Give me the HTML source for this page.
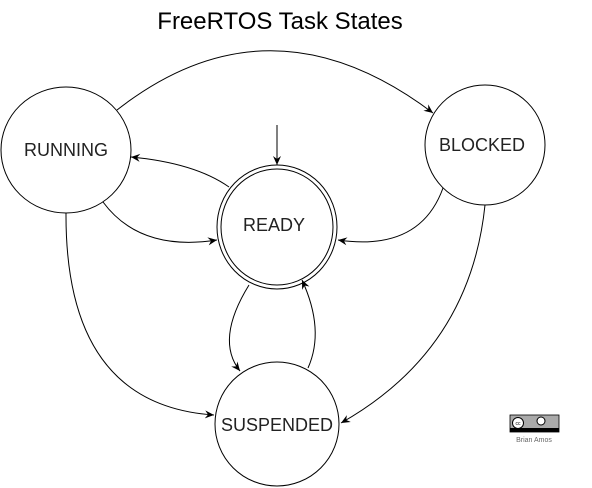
<!DOCTYPE html>
<html><head><style>body{margin:0;background:#fff}svg{display:block}</style></head><body>
<svg width="592" height="488" viewBox="0 0 592 488" xmlns="http://www.w3.org/2000/svg" font-family="Liberation Sans, Arial, sans-serif">
<defs><marker id="a" markerWidth="10" markerHeight="10" refX="9" refY="5" orient="auto" markerUnits="userSpaceOnUse"><path d="M0,1 L9,5 L0,9 L3,5 Z" fill="#000"/></marker></defs>
<text x="280" y="29" font-size="24" text-anchor="middle">FreeRTOS Task States</text>
<g fill="none" stroke="#000" stroke-width="1">
<ellipse cx="66" cy="150" rx="65" ry="63"/>
<ellipse cx="485" cy="145" rx="60" ry="60"/>
<ellipse cx="277" cy="227" rx="60" ry="62"/>
<ellipse cx="277" cy="227" rx="56" ry="58"/>
<ellipse cx="277" cy="424" rx="62" ry="62"/>
<path d="M117,110 Q270,-10 433,113" marker-end="url(#a)"/>
<path d="M277,125 L277,165" marker-end="url(#a)"/>
<path d="M229,187 Q195,163 131,157" marker-end="url(#a)"/>
<path d="M103,202 Q140,252 217,240" marker-end="url(#a)"/>
<path d="M443,188 Q420,252 338,240" marker-end="url(#a)"/>
<path d="M66,213 Q65,405 214,415" marker-end="url(#a)"/>
<path d="M485,205 Q470,350 341,423" marker-end="url(#a)"/>
<path d="M249,285 Q215,340 240,371" marker-end="url(#a)"/>
<path d="M308,368 Q325,330 302,280" marker-end="url(#a)"/>
</g>
<g font-size="18" text-anchor="middle" fill="#222">
<text x="66" y="156">RUNNING</text>
<text x="482" y="151">BLOCKED</text>
<text x="274" y="231">READY</text>
<text x="277" y="431">SUSPENDED</text>
</g>
<rect x="510" y="415" width="49" height="17" fill="#aaa" stroke="#000" stroke-width="0.8"/>
<rect x="510" y="428" width="49" height="4" fill="#000"/>
<circle cx="518" cy="423" r="5.5" fill="#fff" stroke="#000"/>
<text x="518" y="425" font-size="5" text-anchor="middle">cc</text>
<circle cx="541" cy="421" r="4" fill="#fff" stroke="#000"/>
<text x="534" y="442" font-size="7" fill="#666" text-anchor="middle">Brian Amos</text>
</svg>
</body></html>
